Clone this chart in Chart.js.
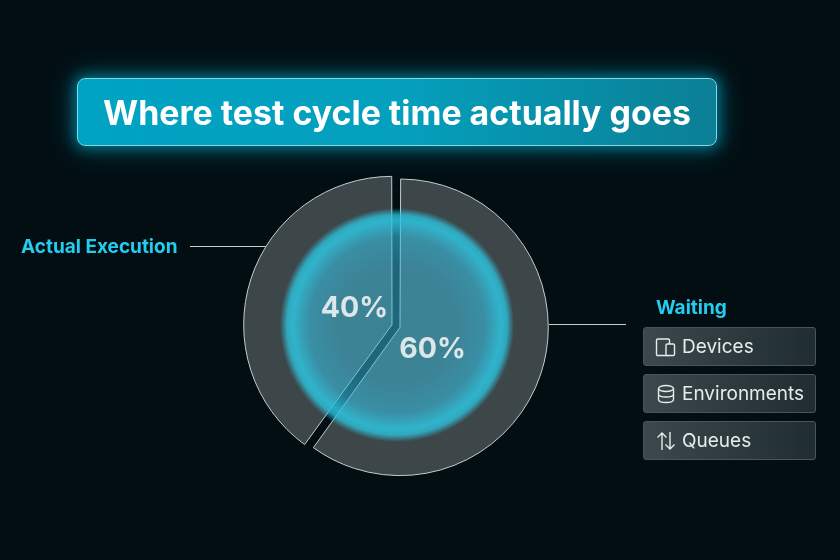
<!DOCTYPE html>
<html><head><meta charset="utf-8">
<script src="https://cdn.jsdelivr.net/npm/chart.js@4"></script>
<style>
html,body{margin:0;padding:0;width:840px;height:560px;overflow:hidden;background:#020e12;font-family:Inter,"Noto Sans",sans-serif}
#stage{position:relative;width:840px;height:560px}
canvas{position:absolute;left:0;top:0}
#title{position:absolute;left:77px;top:78px;width:640px;height:68px;box-sizing:border-box;border:1px solid #7fd8e8;border-radius:8px;
 background:linear-gradient(90deg,#00a3c3 0%,#04a0bd 50%,#0b7f95 100%);box-shadow:0 0 14px 3px rgba(0,190,225,.55),0 0 34px 8px rgba(0,170,205,.18);
 color:#fff;font-weight:700;font-size:33.9px;line-height:68px;text-align:center;white-space:nowrap}
.cap{position:absolute;color:#22cdf0;font-weight:700;font-size:19px;line-height:22px;white-space:nowrap}
.lead{position:absolute;height:1px;background:#c4cfd2}
.item{position:absolute;left:643px;width:173px;height:39px;box-sizing:border-box;border:1px solid #4a5558;border-radius:3px;
 background:linear-gradient(90deg,#3c484c,#1f2c30);color:#e6eced;font-size:19px;line-height:37px;white-space:nowrap}
.item svg{position:absolute;left:11px;top:8px;width:22px;height:22px;fill:none;stroke:#e6eced;stroke-width:1.4}
.item span{position:absolute;left:38px;top:0}
</style></head><body>
<div id="stage">
<canvas id="c" width="840" height="560"></canvas>
<div id="title"></div>
<div class="lead" style="left:190px;top:246px;width:76px"></div>
<div class="lead" style="left:549px;top:324px;width:77px"></div>
<div class="cap" id="capA" style="left:21px;top:236px"></div>
<div class="cap" id="capW" style="left:656px;top:297px"></div>
<div id="items"></div>
</div>
<script>
const titleText = 'Where test cycle time actually goes';
const categories = ['Waiting', 'Actual Execution'];
const shares = [60, 40];
const waitingItems = ['Devices', 'Environments', 'Queues'];
const itemTops = [327, 374, 421];
const icons = [
 '<rect x="1.500" y="3" width="13" height="16.500" rx="1.200"/><rect x="11" y="8" width="8.500" height="11.500" rx="1.200" fill="#333f43"/>',
 '<ellipse cx="11" cy="5.500" rx="7.500" ry="3"/><path d="M3.500 5.500v11c0 1.700 3.400 3 7.500 3s7.500-1.300 7.500-3v-11M3.500 11c0 1.700 3.400 3 7.500 3s7.500-1.300 7.500-3"/>',
 '<path d="M7 20V3M2.500 7.500 7 3l4.500 4.500M15 2v17M10.500 14.500 15 19l4.500-4.500"/>'
];
document.getElementById('title').textContent = titleText;
document.getElementById('capW').textContent = categories[0];
document.getElementById('capA').textContent = categories[1];
document.getElementById('items').innerHTML = waitingItems.map((t,i)=>
 `<div class="item" style="top:${itemTops[i]}px"><svg viewBox="0 0 22 22">${icons[i]}</svg><span>${t}</span></div>`).join('');

const overlay = {
 id:'overlay',
 beforeDatasetsDraw(chart){
  // Chart.js grows an offset arc less when it spans under 180 degrees; even the two radii out
  const a = chart.getDatasetMeta(0).data;
  a[1].outerRadius = a[0].outerRadius + 2.5;
 },
 afterDatasetsDraw(chart){
  const ctx = chart.ctx, a = chart.getDatasetMeta(0).data;
  const cx = a[0].x + 1, cy = a[0].y - 1;
  const r = 117;
  const g = ctx.createRadialGradient(cx,cy,0,cx,cy,r);
  g.addColorStop(0,'rgba(60,190,225,.5)');
  g.addColorStop(.5,'rgba(60,190,225,.5)');
  g.addColorStop(.75,'rgba(55,190,225,.6)');
  g.addColorStop(.89,'rgba(45,195,222,.88)');
  g.addColorStop(.94,'rgba(45,195,222,.78)');
  g.addColorStop(1,'rgba(45,195,222,0)');
  ctx.save();
  ctx.fillStyle = g;
  ctx.beginPath(); ctx.arc(cx,cy,r,0,Math.PI*2); ctx.fill();
  ctx.fillStyle = '#dde7ea';
  ctx.font = '700 28.500px Inter';
  ctx.textAlign='center'; ctx.textBaseline='middle';
  ctx.fillText(shares[0]+'%', a[0].x+36.5, a[0].y+23);
  ctx.fillText(shares[1]+'%', a[1].x-41.5, a[1].y-18);
  ctx.restore();
 }
};
new Chart(document.getElementById('c'),{
 type:'pie',
 data:{labels:categories,datasets:[{data:shares,backgroundColor:'#3d474a',borderColor:'#c3cdcf',borderWidth:1,offset:16.8,hoverOffset:0}]},
 options:{responsive:false,animation:false,
  layout:{padding:{left:243,right:291,top:173,bottom:81}},
  plugins:{legend:{display:false},tooltip:{enabled:false},title:{display:false}}},
 plugins:[overlay]
});
</script>
</body></html>
